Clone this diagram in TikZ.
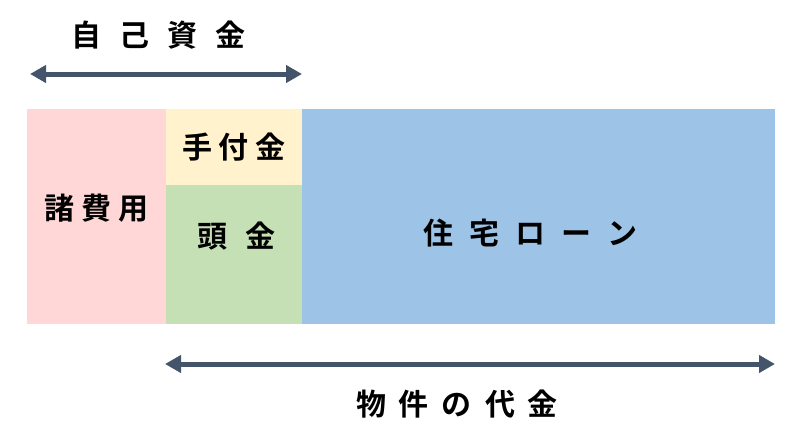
\documentclass[tikz,border=0pt]{standalone}
\usepackage{fontspec}
\setmainfont{Noto Sans CJK JP}[BoldFont={* Bold}]
\usetikzlibrary{arrows.meta,positioning}

\definecolor{feecol}{HTML}{FFD7D7}
\definecolor{depcol}{HTML}{FFF2CC}
\definecolor{downcol}{HTML}{C5E0B4}
\definecolor{loancol}{HTML}{9DC3E6}
\definecolor{arrcol}{HTML}{44546A}

\tikzset{
  part/.style={inner sep=0pt,outer sep=0pt,anchor=north west},
  lbl/.style={font=\bfseries\fontsize{30pt}{32pt}\selectfont,inner sep=0pt},
  span/.style={draw=arrcol,line width=5pt,{Triangle[length=16pt,width=17pt]}-{Triangle[length=16pt,width=17pt]}}
}

\begin{document}
\begin{tikzpicture}[x=1pt,y=-1pt]
\useasboundingbox (0,0) rectangle (800,442);

% blocks
\node[part,fill=feecol,minimum width=139pt,minimum height=215pt] (fees) at (27,109) {};
\node[part,fill=depcol,minimum width=136pt,minimum height=76pt] (dep) at (fees.north east) {};
\node[part,fill=downcol,minimum width=136pt,minimum height=139pt] (down) at (dep.south west) {};
\node[part,fill=loancol,minimum width=473pt,minimum height=215pt] (loan) at (dep.north east) {};

\node[lbl] (feesT) at ([yshift=8pt]fees.center) {諸\hspace{7pt}費\hspace{7pt}用};
\node[lbl] (depT) at (dep.center) {手\hspace{7pt}付\hspace{7pt}金};
\node[lbl] (downT) at ([yshift=18pt,xshift=2pt]down.center) {頭\hspace{18pt}金};
\node[lbl] (loanT) at ([yshift=-17pt,xshift=-8pt]loan.center) {住\hspace{16pt}宅\hspace{16pt}ロ\hspace{16pt}ー\hspace{16pt}ン};

% spans
\coordinate (ownL) at (30,74);
\coordinate (ownR) at (dep.north east |- ownL);
\draw[span] (ownL) -- (ownR);
\node[lbl] (ownT) at (158,35) {自\hspace{18pt}己\hspace{18pt}資\hspace{18pt}金};

\coordinate (priceL) at (165,364);
\coordinate (priceR) at (loan.south east |- priceL);
\draw[span] (priceL) -- (priceR);
\node[lbl] (priceT) at (457,404) {物\hspace{13pt}件\hspace{13pt}の\hspace{13pt}代\hspace{13pt}金};
\end{tikzpicture}
\end{document}
